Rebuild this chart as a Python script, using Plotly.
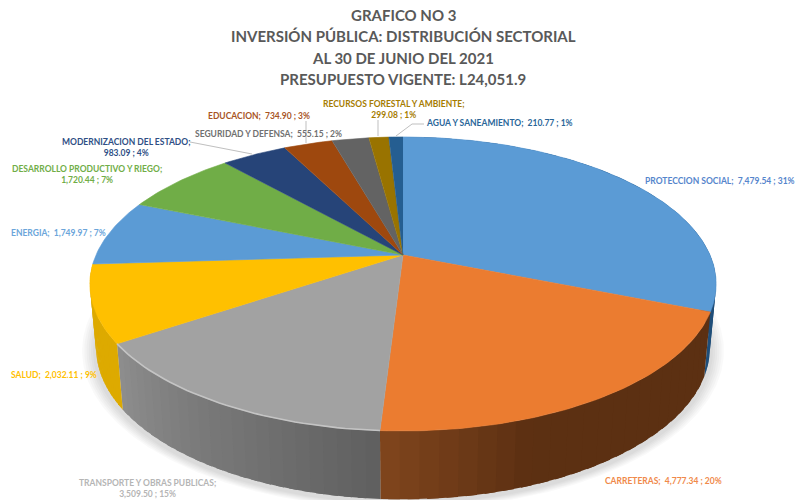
import math
import plotly.graph_objects as go

TITLE_LINES = ["GRAFICO NO 3", "INVERSIÓN PÚBLICA: DISTRIBUCIÓN SECTORIAL",
               "AL 30 DE JUNIO DEL 2021", "PRESUPUESTO VIGENTE: L24,051.9"]
CATEGORIES = ["PROTECCION SOCIAL", "CARRETERAS", "TRANSPORTE Y OBRAS PUBLICAS", "SALUD", "ENERGIA",
              "DESARROLLO PRODUCTIVO Y RIEGO", "MODERNIZACION DEL ESTADO", "EDUCACION",
              "SEGURIDAD Y DEFENSA", "RECURSOS FORESTAL Y AMBIENTE", "AGUA Y SANEAMIENTO"]
VALUES = [7479.54, 4777.34, 3509.50, 2032.11, 1749.97, 1720.44, 983.09, 734.90, 555.15, 299.08, 210.77]
PERCENTS = [31, 20, 15, 9, 7, 7, 4, 3, 2, 1, 1]

COLORS = ["#5B9BD5", "#EB7C30", "#A2A2A2", "#FFC000", "#5B9BD5", "#70AD47",
          "#264478", "#9E480E", "#636363", "#997300", "#255E91"]
LABEL_COLORS = ["#5585CC", "#F0894A", "#B5B5B5", "#FFC000", "#6BA5DA", "#70AD47",
                "#2F4F85", "#A8551F", "#707070", "#A67C00", "#2A6699"]
# wall shading: (fraction along the slice, colour)
WALL_STOPS = {
    0: [(0, "#1F4E79"), (1, "#1F4E79")],
    1: [(0, "#5C3012"), (0.68, "#5C3012"), (1, "#80451D")],
    2: [(0, "#5F5F5F"), (1, "#8E8E8E")],
    3: [(0, "#DDAA00"), (1, "#DDAA00")],
}
LABEL_POS = [(720, 181), (663, 481), (147, 488), (54, 375), (58, 233), (87, 174),
             (126, 147), (259, 116), (268, 134), (394, 109), (499, 123)]
LABEL_BREAK = [False, False, True, False, False, True, True, False, False, True, False]
LEADERS = [([190, 252], [142, 154]), ([306, 306], [121, 143]), ([378, 378], [120, 136]),
           ([424, 412, 396], [124, 124, 136])]

CX, CY, A, B, K = 403, 255, 307, 141.3, 0.197
EC_Y, BASE_SX, BASE_SY, BASE_H = 284, 0.98, 1.03, 64


def top(theta):
    u, v = math.sin(theta), math.cos(theta)
    w = 1 + K * v
    return CX + A * u / w, CY - B * v / w


def base(theta, grow=0.0, dy=0.0):
    x, y = top(theta)
    return (CX + (x - CX) * (BASE_SX + grow),
            EC_Y + (y - EC_Y) * (BASE_SY + grow) + BASE_H + dy)


def mix(stops, f):
    for (f0, c0), (f1, c1) in zip(stops, stops[1:]):
        if f <= f1:
            t = (f - f0) / (f1 - f0)
            rgb = [round(int(c0[i:i + 2], 16) * (1 - t) + int(c1[i:i + 2], 16) * t) for i in (1, 3, 5)]
            return "#%02X%02X%02X" % tuple(rgb)
    return stops[-1][1]


def poly(fig, xs, ys, color, line=0.6):
    fig.add_trace(go.Scatter(x=xs, y=ys, mode="lines", fill="toself", fillcolor=color,
                             line=dict(color=color, width=line), hoverinfo="skip", showlegend=False))


fig = go.Figure()
total = sum(VALUES)
edges = [0.0]
for v in VALUES:
    edges.append(edges[-1] + v / total * 2 * math.pi)

# soft shadow under the base
circle = [i / 180 * math.pi for i in range(361)]
for g in (0.045, 0.038, 0.031, 0.024, 0.017, 0.010):
    pts = [base(t, g, 3) for t in circle]
    poly(fig, [p[0] for p in pts], [p[1] for p in pts], "rgba(0,0,0,0.022)", 0)

# outer walls as shaded strips, overlapping so that no seams show
for i, stops in WALL_STOPS.items():
    a0, a1 = edges[i], edges[i + 1]
    n = 24
    for s in range(n):
        t0, t1 = a0 + (a1 - a0) * s / n, a0 + (a1 - a0) * (s + 1.6) / n
        t1 = min(t1, a1)
        ts = [t0 + (t1 - t0) * j / 4 for j in range(5)]
        up = [top(t) for t in ts]
        dn = [base(t) for t in reversed(ts)]
        pts = up + dn
        poly(fig, [p[0] for p in pts], [p[1] for p in pts], mix(stops, (s + 0.5) / n), 0)

# top face
for i, c in enumerate(COLORS):
    a0, a1 = edges[i], edges[i + 1]
    n = max(4, int((a1 - a0) * 60))
    pts = [(CX, CY)] + [top(a0 + (a1 - a0) * j / n) for j in range(n + 1)]
    poly(fig, [p[0] for p in pts], [p[1] for p in pts], c)

# light rim on the grey slice
ts = [edges[2] + (edges[3] - edges[2]) * j / 40 for j in range(41)]
pts = [top(t) for t in ts]
fig.add_trace(go.Scatter(x=[p[0] for p in pts], y=[p[1] for p in pts], mode="lines",
                         line=dict(color="#C4C4C4", width=1.6), hoverinfo="skip", showlegend=False))

for lx, ly in LEADERS:
    fig.add_trace(go.Scatter(x=lx, y=ly, mode="lines", line=dict(color="#BFBFBF", width=1),
                             hoverinfo="skip", showlegend=False))

annotations = []
for line, y in zip(TITLE_LINES, (15, 36, 58, 79)):
    annotations.append(dict(x=403, y=y, text=line, showarrow=False, xref="x", yref="y",
                            font=dict(family="Lato", size=15, color="#595959", weight="bold")))
for name, val, pct, pos, brk, col in zip(CATEGORIES, VALUES, PERCENTS, LABEL_POS, LABEL_BREAK, LABEL_COLORS):
    sep = ";<br>" if brk else ";  "
    annotations.append(dict(x=pos[0], y=pos[1], text=f"{name}{sep}{val:,.2f} ; {pct}%", showarrow=False,
                            xref="x", yref="y", align="center",
                            font=dict(family="Lato", size=8.5, color=col, weight="bold")))

fig.update_layout(
    width=800, height=500, margin=dict(l=0, r=0, t=0, b=0), autosize=False,
    paper_bgcolor="white", plot_bgcolor="white", showlegend=False,
    xaxis=dict(range=[0, 800], visible=False, fixedrange=True),
    yaxis=dict(range=[500, 0], visible=False, fixedrange=True),
    annotations=annotations,
)
fig.write_html("out.html", config={"displayModeBar": False},
               post_script="document.body.style.margin='0';document.documentElement.style.overflow='hidden';")
